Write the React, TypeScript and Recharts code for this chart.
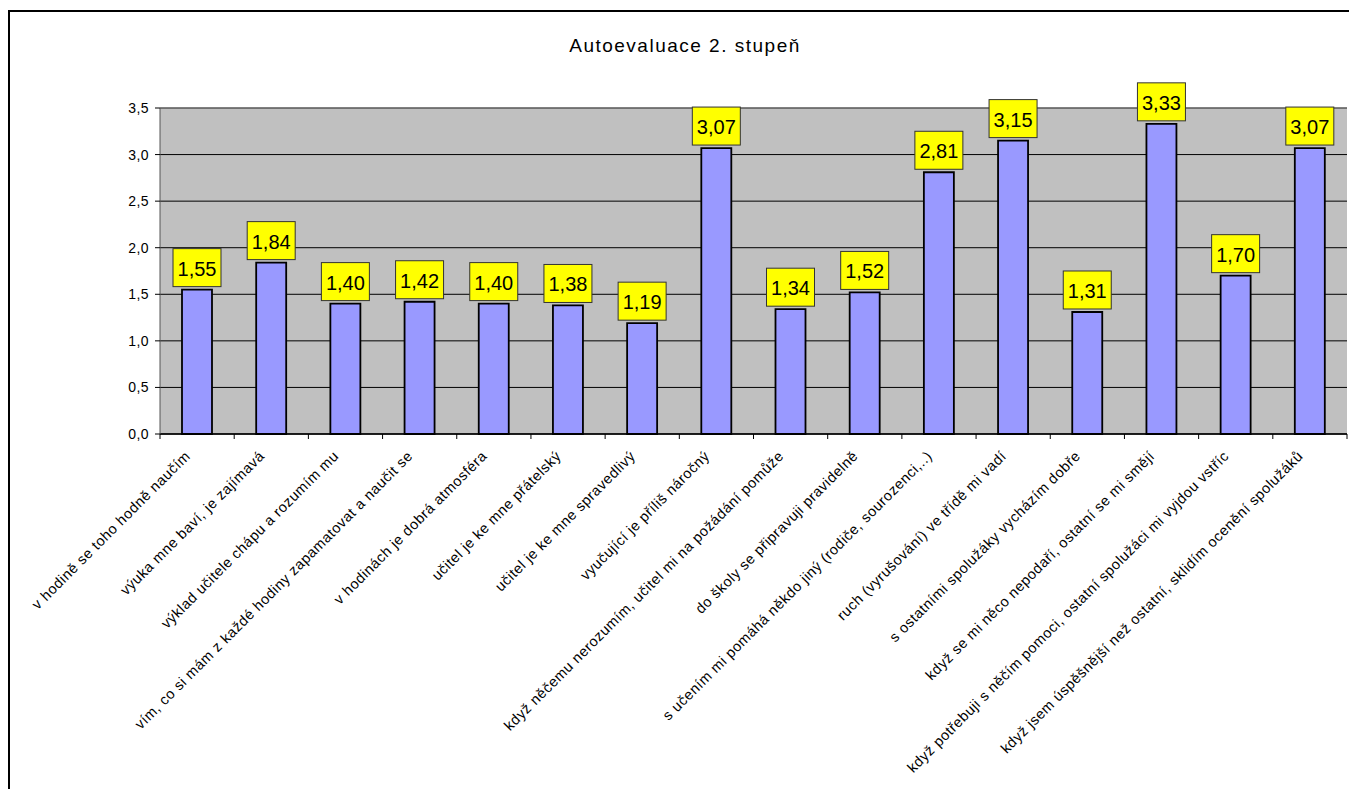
import { BarChart, Bar, XAxis, YAxis, CartesianGrid, LabelList, ReferenceLine } from 'recharts';

const categories = [
  'v hodině se toho hodně naučím',
  'výuka mne baví, je zajímavá',
  'výklad učitele chápu a rozumím mu',
  'vím, co si mám z každé hodiny zapamatovat a naučit se',
  'v hodinách je dobrá atmosféra',
  'učitel je ke mne přátelský',
  'učitel je ke mne spravedlivý',
  'vyučující je příliš náročný',
  'když něčemu nerozumím, učitel mi na požádání pomůže',
  'do školy se připravuji pravidelně',
  's učením mi pomáhá někdo jiný (rodiče, sourozenci,..)',
  'ruch (vyrušování) ve třídě mi vadí',
  's ostatními spolužáky vycházím dobře',
  'když se mi něco nepodaří, ostatní se mi smějí',
  'když potřebuji s něčím pomoci, ostatní spolužáci mi vyjdou vstříc',
  'když jsem úspěšnější než ostatní, sklidím ocenění spolužáků',
];

const values = [1.55, 1.84, 1.4, 1.42, 1.4, 1.38, 1.19, 3.07, 1.34, 1.52, 2.81, 3.15, 1.31, 3.33, 1.7, 3.07];

const yTicks = [0, 0.5, 1, 1.5, 2, 2.5, 3, 3.5];

const data = categories.map((name, i) => ({ name, value: values[i] }));

const W = 1349;
const H = 789;
const margin = { top: 108, right: 2, left: 100, bottom: 55 };
const Y_AXIS_W = 60;
const plotW = W - margin.left - Y_AXIS_W - margin.right;
const step = plotW / categories.length;
const font = '"Liberation Sans", Arial, sans-serif';

const comma = (v: number, d: number) => v.toFixed(d).replace('.', ',');

function CategoryTick(props: any) {
  const { x, y, payload, index } = props;
  return (
    <g>
      <line x1={x - step / 2} y1={y} x2={x - step / 2} y2={y + 5} stroke="#000" />
      {index === categories.length - 1 && (
        <line x1={x + step / 2} y1={y} x2={x + step / 2} y2={y + 5} stroke="#000" />
      )}
      <g transform={`translate(${x - 6},${y + 23})`}>
        <text
          transform="rotate(-45)"
          textAnchor="end"
          fontFamily={font}
          fontSize={14.5}
          letterSpacing={0.5}
          fill="#000"
        >
          {payload.value}
        </text>
      </g>
    </g>
  );
}

function ValueBox(props: any) {
  const { x, y, width, value } = props;
  const cx = x + width / 2;
  const bottom = y - 3;
  return (
    <g>
      <rect x={cx - 24} y={bottom - 38} width={48} height={38} fill="#FFFF00" stroke="#333" strokeWidth={1} />
      <text x={cx} y={bottom - 11} textAnchor="middle" fontFamily={font} fontSize={20} fill="#000">
        {comma(value, 2)}
      </text>
    </g>
  );
}

export default function App() {
  return (
    <div style={{ position: 'absolute', left: 0, top: 0, width: W, height: H, overflow: 'hidden', background: '#fff' }}>
      <div
        style={{
          position: 'absolute',
          left: 8,
          top: 10,
          width: W + 50,
          height: H + 50,
          border: '2px solid #000',
        }}
      />
      <div
        style={{
          position: 'absolute',
          left: 485,
          width: 400,
          top: 35,
          textAlign: 'center',
          fontFamily: font,
          fontSize: 19,
          letterSpacing: 1.5,
          color: '#000',
        }}
      >
        Autoevaluace 2. stupeň
      </div>
      <BarChart
        width={W}
        height={H}
        data={data}
        margin={margin}
        barSize={30}
        style={{ position: 'absolute', left: 0, top: 0 }}
      >
        <CartesianGrid vertical={false} stroke="#000" fill="#C0C0C0" />
        <XAxis
          dataKey="name"
          interval={0}
          height={300}
          tickLine={false}
          tickSize={0}
          tickMargin={0}
          axisLine={{ stroke: '#000', strokeWidth: 1.5 }}
          tick={<CategoryTick />}
        />
        <YAxis
          width={Y_AXIS_W}
          domain={[0, 3.5]}
          ticks={yTicks}
          interval={0}
          tickSize={5}
          tickMargin={6}
          tickFormatter={(v: number) => comma(v, 1)}
          tick={{ fontFamily: font, fontSize: 14, fill: '#000', letterSpacing: 0.4 }}
          tickLine={{ stroke: '#000' }}
          axisLine={{ stroke: '#555' }}
        />
        <YAxis yAxisId="r" orientation="right" width={0} tick={false} tickLine={false} axisLine={{ stroke: '#808080' }} />
        <ReferenceLine y={3.5} stroke="#808080" />
        <Bar dataKey="value" fill="#9999FF" stroke="#000" strokeWidth={1.8} isAnimationActive={false}>
          <LabelList dataKey="value" content={<ValueBox />} />
        </Bar>
      </BarChart>
    </div>
  );
}
